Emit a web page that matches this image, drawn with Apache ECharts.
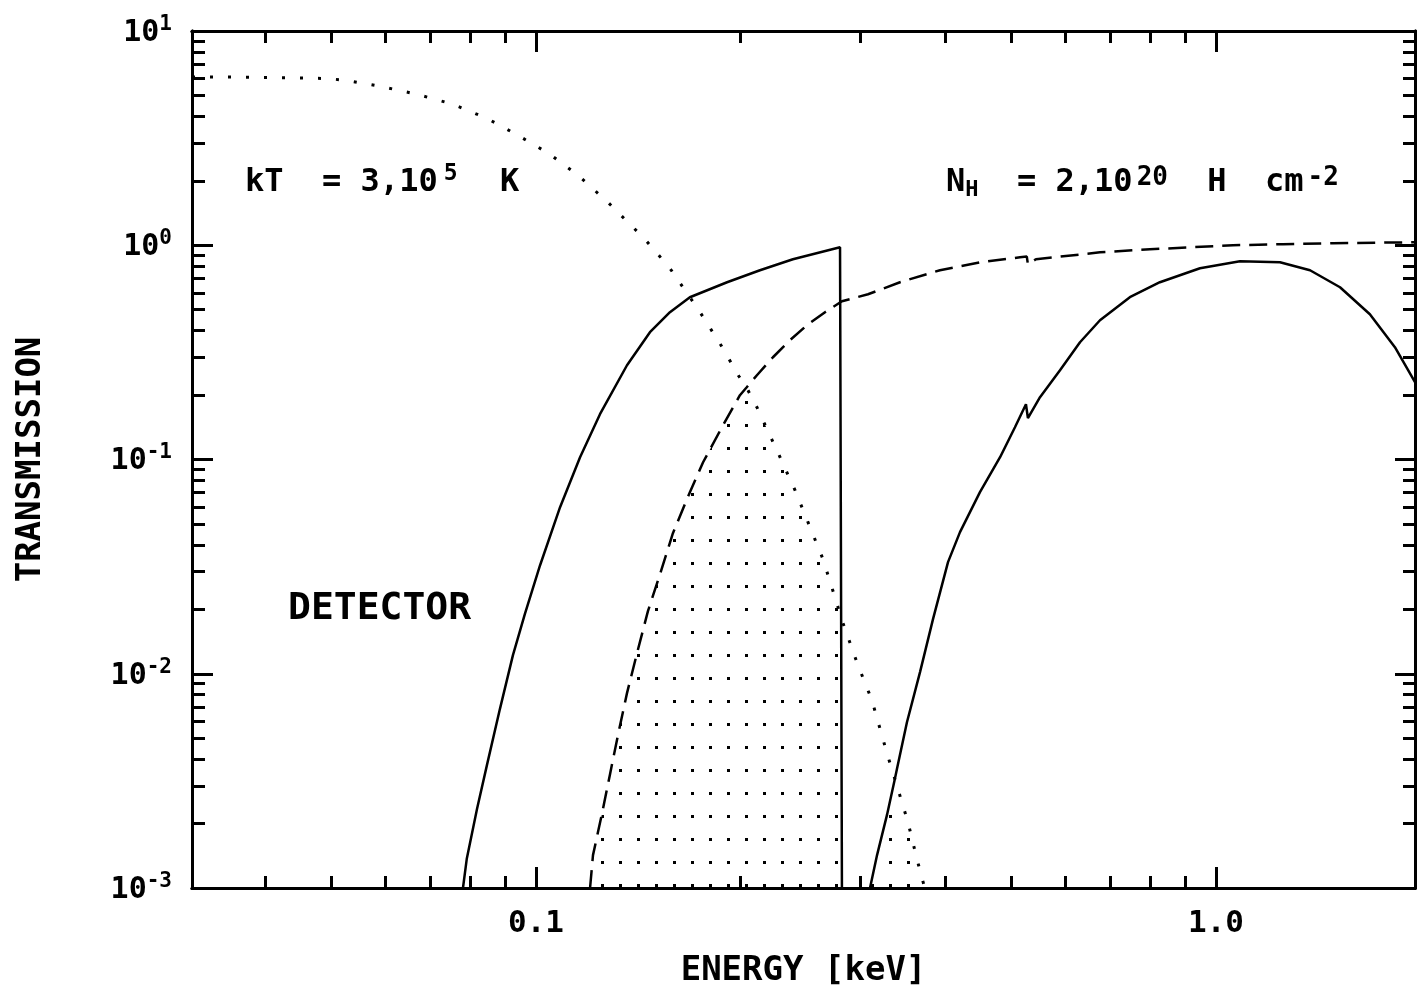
<!DOCTYPE html>
<html>
<head>
<meta charset="utf-8">
<script src="https://cdn.jsdelivr.net/npm/echarts@6/dist/echarts.min.js"></script>
<style>
  html, body { margin: 0; padding: 0; background: #ffffff; }
  #chart { width: 1418px; height: 985px; }
</style>
</head>
<body>
<div id="chart"></div>
<script>
// Axis ranges (energy in keV, transmission)
const X_MIN = 0.0312, X_MAX = 1.962;
const Y_MIN = 0.001, Y_MAX = 10;

// Tick positions and labels
const xMinorTicks = [0.04, 0.05, 0.06, 0.07, 0.08, 0.09, 0.2, 0.3, 0.4, 0.5, 0.6, 0.7, 0.8, 0.9];
const xMajorTicks = [0.1, 1];
const xTickLabels = ['0.1', '1.0'];
const yMajorTicks = [0.001, 0.01, 0.1, 1, 10];
const yTickExponents = ['-3', '-2', '-1', '0', '1'];
const yMinorTicks = [
  0.002, 0.003, 0.004, 0.005, 0.006, 0.007, 0.008, 0.009,
  0.02, 0.03, 0.04, 0.05, 0.06, 0.07, 0.08, 0.09,
  0.2, 0.3, 0.4, 0.5, 0.6, 0.7, 0.8, 0.9,
  2, 3, 4, 5, 6, 7, 8, 9
];

// Source spectrum, kT = 3.10^5 K (dotted)
const spectrumE = [0.0312, 0.0360, 0.0435, 0.0493, 0.0524, 0.0590, 0.0668, 0.0755, 0.0847, 0.0941,
  0.1048, 0.1153, 0.1276, 0.1389, 0.1446, 0.1574, 0.1743, 0.1871, 0.1988, 0.2040, 0.2113,
  0.2285, 0.2404, 0.2512, 0.2643, 0.2752, 0.2818, 0.2975, 0.3119, 0.3282, 0.3371, 0.3407,
  0.3524, 0.3633, 0.3733];
const spectrumT = [6.10, 6.10, 6.05, 6.00, 5.89, 5.52, 5.07, 4.55, 3.91, 3.26,
  2.66, 2.12, 1.587, 1.213, 1.067, 0.781, 0.487, 0.3415, 0.2447, 0.2168, 0.1754,
  0.1025, 0.0719, 0.0510, 0.03425, 0.02277, 0.01778, 0.01097, 0.00753, 0.00426, 0.00323, 0.00289,
  0.00203, 0.001364, 0.00099];

// Interstellar transmission, N_H = 2.10^20 H cm^-2 (dashed)
const ismE = [0.1201, 0.1213, 0.1251, 0.1285, 0.1320, 0.1361, 0.1408, 0.1461, 0.1522, 0.1590,
  0.1684, 0.1761, 0.1884, 0.1995, 0.2040, 0.2113, 0.2231, 0.2363, 0.2503, 0.2661, 0.2818,
  0.3078, 0.3430, 0.3927, 0.4497, 0.5150, 0.5270, 0.5290, 0.5436, 0.6752, 0.7996, 0.925,
  1.0593, 1.2545, 1.486, 1.962];
const ismT = [0.001, 0.001424, 0.002236, 0.0034, 0.00517, 0.00812, 0.01248, 0.01959, 0.02916, 0.0453,
  0.0704, 0.0971, 0.1445, 0.1995, 0.2168, 0.2473, 0.3001, 0.3603, 0.4233, 0.487, 0.548,
  0.5905, 0.672, 0.7645, 0.833, 0.879, 0.885, 0.815, 0.860, 0.927, 0.958, 0.979,
  1.0, 1.011, 1.022, 1.033];

// Detector transmission below the carbon edge (solid)
const detLowE = [0.0781, 0.0791, 0.0819, 0.0847, 0.0885, 0.0925, 0.0963, 0.1014, 0.1085, 0.1161,
  0.1242, 0.1361, 0.1471, 0.1574, 0.1684, 0.1910, 0.2135, 0.2387, 0.2800, 0.2818, 0.2818];
const detLowT = [0.001, 0.001364, 0.002335, 0.003745, 0.00684, 0.01222, 0.01897, 0.0321, 0.0599, 0.1025,
  0.1627, 0.2754, 0.3927, 0.487, 0.572, 0.672, 0.7645, 0.860, 0.979, 0.99, 0.001];

// Detector transmission above the carbon edge (solid)
const detHighE = [0.3099, 0.3174, 0.3282, 0.3371, 0.3395, 0.3512, 0.3671, 0.3836, 0.4036, 0.4203,
  0.4497, 0.4814, 0.5063, 0.5255, 0.5290, 0.5511, 0.5897, 0.631, 0.6752, 0.7471, 0.8271,
  0.9473, 1.0846, 1.242, 1.375, 1.522, 1.684, 1.833, 1.962];
const detHighT = [0.001, 0.001424, 0.002188, 0.00323, 0.003589, 0.00594, 0.01018, 0.01798, 0.0332, 0.0458,
  0.0704, 0.1025, 0.1415, 0.1811, 0.1559, 0.1953, 0.261, 0.3527, 0.4467, 0.572, 0.672,
  0.781, 0.842, 0.833, 0.7645, 0.637, 0.4765, 0.3342, 0.2295];

// Overlap of the curves (dot-hatched bands)
const bandAE = [0.1201, 0.1213, 0.1251, 0.1285, 0.1320, 0.1361, 0.1408, 0.1461, 0.1522, 0.1590,
  0.1684, 0.1761, 0.1884, 0.1995, 0.2040, 0.2113, 0.2285, 0.2404, 0.2512, 0.2643, 0.2752,
  0.2818, 0.2818];
const bandAT = [0.001, 0.001424, 0.002236, 0.0034, 0.00517, 0.00812, 0.01248, 0.01959, 0.02916, 0.0453,
  0.0704, 0.0971, 0.1445, 0.1995, 0.2168, 0.1754, 0.1025, 0.0719, 0.0510, 0.03425, 0.02277,
  0.01778, 0.001];
const bandBE = [0.3099, 0.3174, 0.3282, 0.3371, 0.3407, 0.3524, 0.3633, 0.3733];
const bandBT = [0.001, 0.001424, 0.002188, 0.00323, 0.00289, 0.00203, 0.001364, 0.001];

const zip = (xs, ys) => xs.map((x, i) => [x, ys[i]]);

// Dot pattern used for the hatched bands
function dotPattern() {
  const c = document.createElement('canvas');
  c.width = 18; c.height = 23;
  const g = c.getContext('2d');
  g.fillStyle = '#000';
  g.fillRect(7, 10, 3, 3);
  return c;
}

const FONT = '"DejaVu Sans Mono", monospace';
const INK = '#000000';

function xAxisDef(position, ticks, len, withLabels) {
  return {
    type: 'log', logBase: 10, min: X_MIN, max: X_MAX, position: position,
    axisLine: { show: true, onZero: false, lineStyle: { color: INK, width: 3 } },
    axisTick: { show: true, inside: true, length: len, customValues: ticks, lineStyle: { color: INK, width: 3 } },
    splitLine: { show: false },
    minorTick: { show: false },
    axisLabel: withLabels ? {
      show: true, customValues: xMajorTicks, margin: 20,
      fontFamily: FONT, fontWeight: 'bold', fontSize: 31, color: INK,
      formatter: function (v) {
        const i = xMajorTicks.findIndex(t => Math.abs(Math.log10(t) - Math.log10(v)) < 1e-6);
        return i >= 0 ? xTickLabels[i] : '';
      }
    } : { show: false },
    name: withLabels ? 'ENERGY [keV]' : '',
    nameLocation: 'middle', nameGap: 66,
    nameTextStyle: { fontFamily: FONT, fontWeight: 'bold', fontSize: 34, color: INK }
  };
}

function yAxisDef(position, ticks, len, withLabels) {
  return {
    type: 'log', logBase: 10, min: Y_MIN, max: Y_MAX, position: position,
    axisLine: { show: true, onZero: false, lineStyle: { color: INK, width: 3 } },
    axisTick: { show: true, inside: true, length: len, customValues: ticks, lineStyle: { color: INK, width: 3 } },
    splitLine: { show: false },
    minorTick: { show: false },
    axisLabel: withLabels ? {
      show: true, customValues: yMajorTicks, margin: 20,
      fontFamily: FONT, color: INK,
      formatter: function (v) {
        const i = yMajorTicks.findIndex(t => Math.abs(Math.log10(t) - Math.log10(v)) < 1e-6);
        return i >= 0 ? '{b|10}{s|' + yTickExponents[i] + '}' : '';
      },
      rich: {
        b: { fontFamily: FONT, fontWeight: 'bold', fontSize: 30, lineHeight: 34, verticalAlign: 'bottom', color: INK },
        s: { fontFamily: FONT, fontWeight: 'bold', fontSize: 21, lineHeight: 22, verticalAlign: 'top', color: INK }
      }
    } : { show: false },
    name: withLabels ? 'TRANSMISSION' : '',
    nameLocation: 'middle', nameGap: 144, nameRotate: 90,
    nameTextStyle: { fontFamily: FONT, fontWeight: 'bold', fontSize: 34, color: INK }
  };
}

const chart = echarts.init(document.getElementById('chart'), null, { renderer: 'canvas' });
const pattern = { image: dotPattern(), repeat: 'repeat' };

chart.setOption({
  animation: false,
  backgroundColor: '#ffffff',
  grid: { left: 192, right: 3, top: 31, bottom: 97, containLabel: false, outerBoundsMode: 'none' },
  xAxis: [
    xAxisDef('bottom', xMinorTicks, 12, true),
    xAxisDef('bottom', xMajorTicks, 21, false),
    xAxisDef('top', xMinorTicks, 12, false),
    xAxisDef('top', xMajorTicks, 21, false)
  ],
  yAxis: [
    yAxisDef('left', yMinorTicks, 13, true),
    yAxisDef('left', yMajorTicks, 21, false),
    yAxisDef('right', yMinorTicks, 12, false),
    yAxisDef('right', yMajorTicks, 20, false)
  ],
  series: [
    {
      name: 'band A', type: 'line', data: zip(bandAE, bandAT), symbol: 'none', silent: true,
      lineStyle: { width: 0, opacity: 0 }, areaStyle: { color: pattern, origin: 'start', opacity: 1 }, z: 1
    },
    {
      name: 'band B', type: 'line', data: zip(bandBE, bandBT), symbol: 'none', silent: true,
      lineStyle: { width: 0, opacity: 0 }, areaStyle: { color: pattern, origin: 'start', opacity: 1 }, z: 1
    },
    {
      name: 'spectrum', type: 'line', data: zip(spectrumE, spectrumT), symbol: 'none',
      lineStyle: { color: INK, width: 3, type: [3, 15] }, z: 3
    },
    {
      name: 'ISM', type: 'line', data: zip(ismE, ismT), symbol: 'none',
      lineStyle: { color: INK, width: 2.5, type: [18, 9] }, z: 3
    },
    {
      name: 'detector low', type: 'line', data: zip(detLowE, detLowT), symbol: 'none',
      lineStyle: { color: INK, width: 2.5 }, z: 3
    },
    {
      name: 'detector high', type: 'line', data: zip(detHighE, detHighT), symbol: 'none',
      lineStyle: { color: INK, width: 2.5 }, z: 3
    }
  ],
  graphic: [
    {
      type: 'text', x: 245, y: 181, silent: true,
      style: {
        text: '{a|kT  = 3,10}{s|5}{a|  K}',
        verticalAlign: 'middle', align: 'left',
        rich: {
          a: { fontFamily: FONT, fontWeight: 'bold', fontSize: 32, lineHeight: 36, verticalAlign: 'bottom', fill: INK },
          s: { fontFamily: FONT, fontWeight: 'bold', fontSize: 23, lineHeight: 24, verticalAlign: 'top', fill: INK, padding: [0, 4, 0, 6] }
        }
      }
    },
    {
      type: 'text', x: 946, y: 183, silent: true,
      style: {
        text: '{a|N}{h|H}{a|  = 2,10}{s|20}{a| H  cm}{s|-2}',
        verticalAlign: 'middle', align: 'left',
        rich: {
          a: { fontFamily: FONT, fontWeight: 'bold', fontSize: 32, lineHeight: 36, verticalAlign: 'middle', fill: INK },
          h: { fontFamily: FONT, fontWeight: 'bold', fontSize: 22, lineHeight: 22, verticalAlign: 'bottom', fill: INK, padding: [16, 0, 0, 0] },
          s: { fontFamily: FONT, fontWeight: 'bold', fontSize: 26, lineHeight: 26, verticalAlign: 'top', fill: INK, padding: [0, 20, 8, 4] }
        }
      }
    },
    {
      type: 'text', x: 288, y: 609, silent: true,
      style: {
        text: 'DETECTOR', fontFamily: FONT, fontWeight: 'bold', fontSize: 38,
        verticalAlign: 'middle', align: 'left', fill: INK
      }
    }
  ]
});
</script>
</body>
</html>
